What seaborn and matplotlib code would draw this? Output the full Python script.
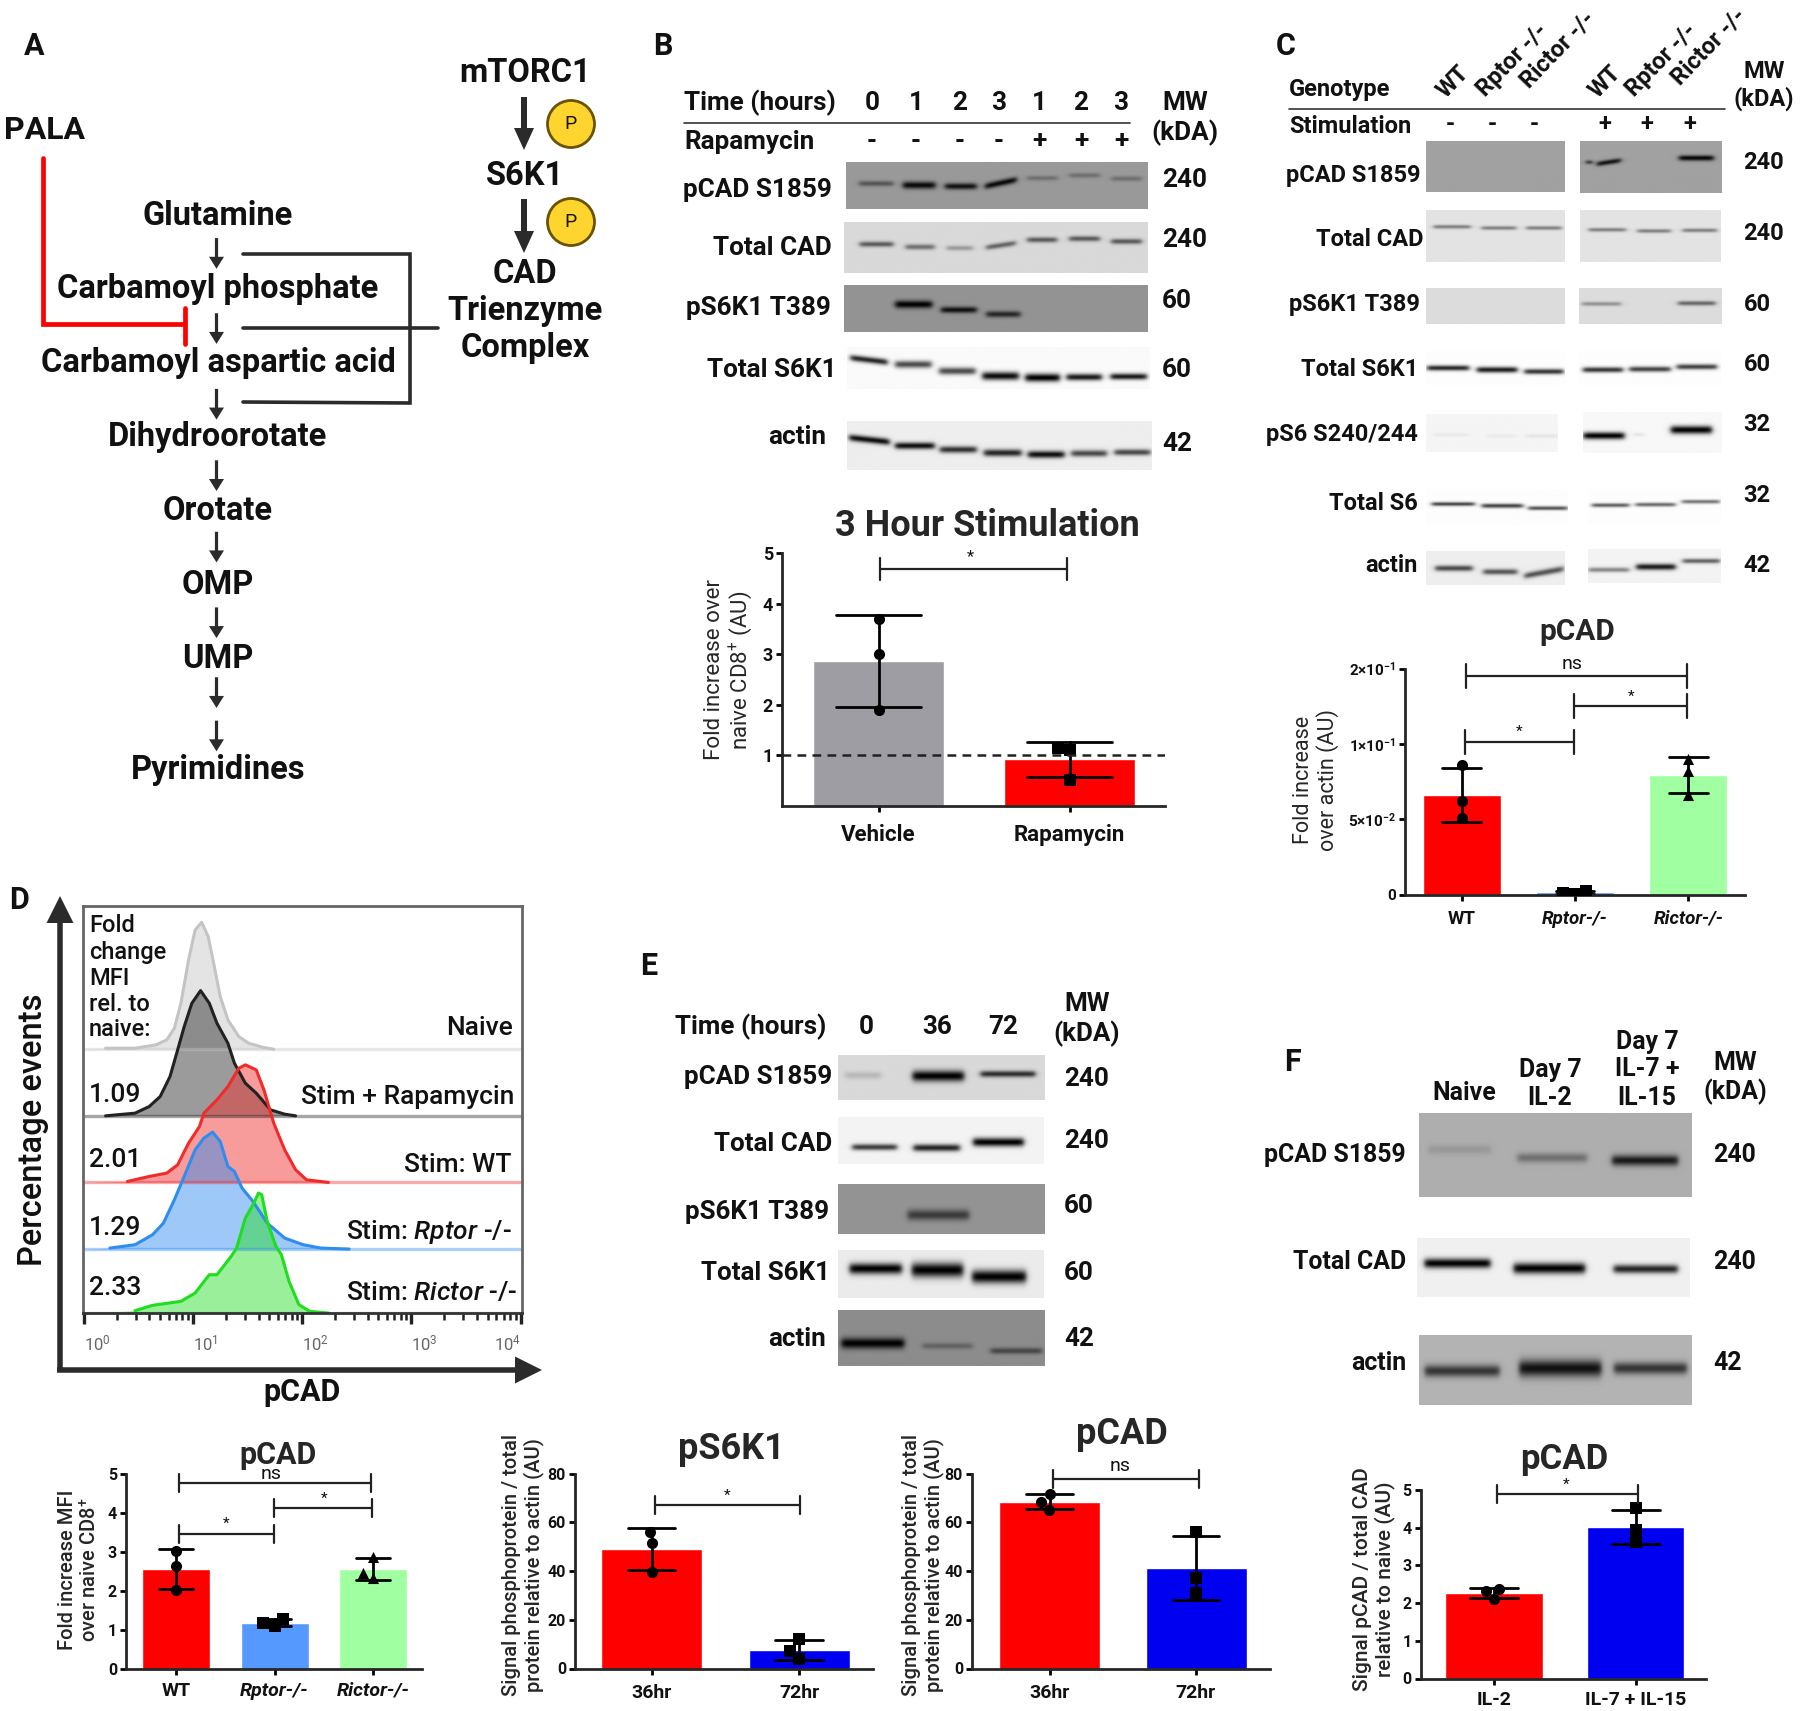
# -*- coding: utf-8 -*-
import numpy as np
import pandas as pd
import matplotlib
matplotlib.use("Agg")
import matplotlib.pyplot as plt
from matplotlib.patches import Ellipse
from matplotlib.transforms import ScaledTranslation
import seaborn as sns

# ---------- data ----------
# bar panels: the three replicates of every group, bars and whiskers are mean +- sd
b_groups = ["Vehicle", "Rapamycin"]
b_values = [[3.70, 3.00, 1.90], [1.15, 1.10, 0.52]]
c_groups = ["WT", "Rptor-/-", "Rictor-/-"]
c_values = [[0.086, 0.062, 0.051], [0.0022, 0.0006, 0.0012], [0.090, 0.082, 0.066]]
d_groups = ["WT", "Rptor-/-", "Rictor-/-"]
d_values = [[3.02, 2.65, 2.02], [1.29, 1.10, 1.17], [2.88, 2.47, 2.33]]
e1_groups = ["36hr", "72hr"]
e1_values = [[56, 51.5, 39.5], [12, 7, 4]]
e2_groups = ["36hr", "72hr"]
e2_values = [[71.5, 68.5, 65.2], [56, 37, 31]]
f_groups = ["IL-2", "IL-7 + IL-15"]
f_values = [[2.37, 2.33, 2.11], [4.52, 3.93, 3.63]]

# flow histograms: log10 fluorescence and events
naive_x = [0, .20, .47, .66, .76, .83, .89, .96, 1.02, 1.08, 1.14, 1.19, 1.25, 1.32, 1.42, 1.51, 1.65, 1.74, 4.02]
naive_y = [0, 3, 3, 13, 28, 63, 138, 268, 358, 381, 338, 258, 158, 88, 38, 18, 5, 0, 0]
rapa_x = [0, .20, .47, .60, .70, .79, .86, .92, .99, 1.07, 1.15, 1.22, 1.32, 1.38, 1.48, 1.58, 1.71, 1.84, 1.94, 4.02]
rapa_y = [0, 0, 8, 28, 58, 118, 198, 268, 338, 376, 338, 278, 218, 158, 98, 68, 18, 5, 0, 0]
wt_x = [0, .40, .60, .76, .86, .96, 1.06, 1.10, 1.22, 1.32, 1.42, 1.48, 1.58, 1.65, 1.74, 1.84, 1.94, 2.04, 2.24, 4.02]
wt_y = [0, 3, 18, 28, 53, 118, 168, 208, 248, 288, 343, 353, 338, 278, 178, 98, 38, 8, 0, 0]
rptor_x = [0, .24, .47, .63, .73, .83, .92, 1.02, 1.10, 1.18, 1.25, 1.32, 1.38, 1.45, 1.55, 1.68, 1.84, 2.01, 2.17, 2.43, 4.02]
rptor_y = [0, 3, 13, 43, 78, 148, 218, 298, 333, 351, 323, 248, 233, 183, 143, 78, 33, 13, 3, 0, 0]
rictor_x = [0, .47, .63, .89, 1.02, 1.15, 1.22, 1.35, 1.40, 1.48, 1.55, 1.60, 1.63, 1.68, 1.76, 1.81, 1.88, 1.97, 2.07, 2.24, 4.02]
rictor_y = [0, 7, 23, 35, 60, 115, 115, 170, 195, 285, 325, 360, 355, 275, 200, 175, 95, 25, 5, 0, 0]

# blot bands: x start, x end, y (or y start/end), darkness, thickness
b_blots = [
    (537, 1325, 296, 381, .60, [(570, 660, 335, .45, 2.2), (685, 770, 338, .95, 3), (795, 878, 340, .9, 2.6), (900, 982, (340, 328), .95, 2.6), (1010, 1090, 325, .28, 2), (1120, 1200, 320, .28, 2), (1230, 1310, 326, .28, 2)]),
    (532, 1325, 405, 497, .85, [(572, 660, 445, .6, 2.2), (692, 768, 450, .5, 2.2), (800, 868, 452, .3, 2), (903, 980, (451, 443), .55, 2.2), (1010, 1088, 437, .6, 2.2), (1120, 1200, 435, .6, 2.2), (1230, 1310, 440, .6, 2.2)]),
    (532, 1325, 520, 605, .58, [(665, 762, 555, 1, 3.2), (785, 878, 565, .9, 2.6), (903, 992, 573, .75, 2.6)]),
    (540, 1330, 635, 710, .98, [(548, 645, (654, 662), .85, 2.6), (665, 760, 666, .7, 3), (780, 875, 678, .7, 3), (893, 988, 687, .95, 3.4), (1005, 1095, 690, 1, 3.4), (1113, 1205, 689, .9, 2.8), (1228, 1323, 688, .9, 2.6)]),
    (540, 1335, 768, 857, .93, [(545, 650, (798, 806), .95, 2.8), (665, 768, 813, .95, 2.8), (782, 878, 820, .8, 2.8), (897, 995, 826, .85, 3), (1012, 1107, 829, .95, 3), (1125, 1218, 827, .7, 2.8), (1238, 1332, 825, .7, 2.6)]),
]
c_blots = [
    (520, 908, 238, 323, .63, []),
    (952, 1347, 240, 326, .63, [(968, 985, 275, .8, 1.6), (998, 1065, (278, 272), .9, 2), (1228, 1325, 268, .98, 2.2)]),
    (520, 908, 355, 442, .89, [(540, 645, 383, .45, 1.6), (675, 772, 385, .45, 1.6), (800, 900, 385, .45, 1.6)]),
    (952, 1345, 355, 442, .89, [(975, 1080, 388, .45, 1.6), (1112, 1205, 390, .45, 1.6), (1238, 1335, 389, .45, 1.6)]),
    (520, 908, 487, 546, .86, []),
    (948, 1347, 487, 546, .86, [(955, 1065, 513, .35, 1.6), (1225, 1330, 512, .55, 1.8)]),
    (520, 908, 590, 650, .99, [(522, 640, 620, .85, 2.2), (662, 775, 623, .9, 2.4), (795, 905, 626, .8, 2.2)]),
    (950, 1345, 590, 650, .99, [(960, 1072, 623, .8, 2.2), (1090, 1205, 622, .75, 2.2), (1222, 1335, 618, .75, 2.2)]),
    (520, 888, 698, 762, .96, [(540, 640, 733, .05, 1.6), (690, 770, 735, .05, 1.6), (800, 890, 735, .07, 1.6)]),
    (960, 1347, 695, 764, .97, [(960, 1075, 735, 1, 3), (1100, 1130, 733, .08, 1.6), (1205, 1320, 725, 1, 3.4)]),
    (520, 915, 825, 885, .99, [(535, 655, 850, .75, 1.6), (675, 790, 853, .75, 1.8), (805, 915, 857, .7, 1.6)]),
    (975, 1347, 825, 885, .99, [(985, 1090, 852, .65, 1.6), (1108, 1220, 851, .6, 1.6), (1238, 1345, 846, .55, 1.6)]),
    (520, 908, 928, 985, .93, [(545, 650, 957, .7, 2.4), (680, 775, 963, .65, 2.4), (795, 905, (970, 958), .65, 2.6)]),
    (975, 1347, 925, 982, .95, [(975, 1090, 960, .45, 2), (1110, 1220, 955, .9, 2.6), (1240, 1345, 945, .6, 2)]),
]
e_blots = [
    (596, 1218, 350, 483, .85, [(615, 725, 410, .15, 3), (820, 975, 412, 1, 4.5), (1025, 1190, 406, .8, 2.6)]),
    (598, 1218, 535, 675, .95, [(640, 775, 625, .75, 2.6), (825, 965, 627, .85, 3), (1005, 1158, 610, 1, 3.6)]),
    (596, 1218, 735, 885, .58, [(805, 990, 828, .6, 4.5)]),
    (598, 1218, 938, 1080, .92, [(632, 790, 993, 1, 4.5), (820, 975, 997, 1, 6), (1002, 1165, 1017, 1, 5.5)]),
    (596, 1218, 1117, 1285, .55, [(605, 795, 1217, 1, 4.5), (850, 1000, 1225, .3, 2.6), (1055, 1210, 1240, .5, 2.6)]),
]
f_blots = [
    (500, 1263, 280, 533, .68, [(525, 700, 390, .12, 4), (775, 970, 415, .35, 4), (1040, 1225, 423, .85, 4.5)]),
    (495, 1258, 660, 835, .94, [(515, 700, 735, 1, 4), (765, 965, 750, 1, 4.5), (1045, 1225, 752, .85, 3.6)]),
    (500, 1263, 950, 1160, .70, [(515, 725, 1058, .7, 5), (780, 1010, 1050, .9, 7), (1045, 1250, 1050, .7, 5)]),
]

# ---------- set up ----------
sns.set_style("ticks")

main_font = "Roboto"
plt.rcParams["font.family"] = [main_font, "DejaVu Sans"]
plt.rcParams["mathtext.fontset"] = "custom"
plt.rcParams["mathtext.rm"] = "Roboto"
plt.rcParams["mathtext.it"] = "Roboto:italic:medium"
plt.rcParams["mathtext.default"] = "regular"

fig = plt.figure(figsize=(18, 17.11), dpi=100, facecolor="white")
ov = fig.add_axes([0, 0, 1, 1], zorder=10)
ov.set_xlim(0, 1800)
ov.set_ylim(1711, 0)
ov.axis("off")
ov.patch.set_alpha(0)
ov.set_autoscale_on(False)


def txt(x, y, s, size=18, weight="bold", ha="center", **kw):
    ov.text(x, y + 2, s, fontsize=size, fontweight=weight, ha=ha, va="center", color="#111111", **kw)


def bracket(x0, x1, y, label="*", lx=None, ly=None, size=11, h=9):
    ov.plot([x0, x1], [y, y], color="#222222", lw=1.6)
    ov.plot([x0, x0], [y - h, y + h], color="#222222", lw=1.6)
    ov.plot([x1, x1], [y - h, y + h], color="#222222", lw=1.6)
    txt((x0 + x1) / 2 if lx is None else lx, y - 10 if ly is None else ly, label, size=size, weight="normal")


def blots(rows, ox, oy, xf, yf):
    for x0, x1, y0, y1, bg, bands in rows:
        bx0, bx1, by0, by1 = ox + x0 / xf, ox + x1 / xf, oy + y0 / yf, oy + y1 / yf
        xs = np.linspace(bx0, bx1, max(int(bx1 - bx0), 2))
        ys = np.linspace(by0, by1, max(int(by1 - by0), 2))
        grid = np.full((len(ys), len(xs)), float(bg))
        for ba, bb, by, dark, thick in bands:
            ya, yb = by if isinstance(by, tuple) else (by, by)
            a, b = ox + ba / xf, ox + bb / xf
            centre = oy + np.interp(xs, [a, b], [ya, yb]) / yf
            env = 0.5 * (np.tanh((xs - a) / 3) - np.tanh((xs - b) / 3))
            prof = np.exp(-((ys[:, None] - centre[None, :]) / (thick * 1.2)) ** 2)
            grid *= 1 - dark * prof * env[None, :]
        ov.imshow(grid, extent=(bx0, bx1, by1, by0), cmap="gray", vmin=0, vmax=1, aspect="auto", zorder=1)
    ov.set_xlim(0, 1800)
    ov.set_ylim(1711, 0)


def arrow(x, y0, y1, shaft=3.2, head=15, hlen=12):
    ov.arrow(x, y0, 0, y1 - y0, width=shaft, head_width=head, head_length=hlen,
             length_includes_head=True, color="#2b2b2b", lw=0)


def bars(box, centers, width, groups, values, colors, markers, ylim, yticks, ylabels, ylab, ylab_xy, title, title_xy,
         title_size, yscale=None, tick_size=11.5, lab_size=14, cap=.34, italic=False, xlab_pad=5, xlab_dx=None):
    left, right, top, bottom = box
    ax = fig.add_axes([left / 1800, 1 - bottom / 1711, (right - left) / 1800, (bottom - top) / 1711])
    df = pd.DataFrame({"group": np.repeat(groups, 3), "value": np.concatenate(values)})
    if yscale is not None:
        ax.set_yscale("function", functions=yscale)
    step = centers[1] - centers[0]
    xlim = ((left - centers[0]) / step, (right - centers[0]) / step)
    ax.set_ylim(*ylim)
    sns.barplot(data=df, x="group", y="value", order=groups, hue="group", hue_order=groups, palette=colors, legend=False,
                width=width / step, saturation=1, errorbar="sd", capsize=cap, err_kws={"color": "black", "linewidth": 2},
                ax=ax)
    for g, m in zip(groups, markers):
        sns.swarmplot(data=df[df["group"] == g], x="group", y="value", order=groups, color="black", marker=m, size=8, ax=ax)
    ax.set_xlim(*xlim)
    ax.set_ylim(*ylim)
    ax.set_yticks(yticks)
    ax.set_yticklabels(ylabels, fontsize=tick_size, fontweight="bold")
    ax.set_xticks(range(len(groups)))
    ax.set_xticklabels(groups, fontsize=lab_size, fontweight="bold")
    if italic:
        for t in ax.get_xticklabels()[1:]:
            t.set_style("italic")
    if xlab_dx is not None:
        for t, dx in zip(ax.get_xticklabels(), xlab_dx):
            t.set_transform(t.get_transform() + ScaledTranslation(dx / 100, 0, fig.dpi_scale_trans))
    ax.tick_params(axis="both", width=2, length=4, pad=2.5, color="black", labelcolor="#111111")
    ax.tick_params(axis="x", pad=xlab_pad)
    sns.despine(ax=ax)
    for s in ("left", "bottom"):
        ax.spines[s].set_linewidth(2)
    ax.patch.set_alpha(0)
    ax.set_xlabel("")
    ax.set_ylabel(ylab["text"], fontsize=ylab["size"], fontweight=ylab["weight"], va="center", ha="center", linespacing=1.15)
    ax.yaxis.set_label_coords((ylab_xy[0] - left) / (right - left), (bottom - ylab_xy[1]) / (bottom - top))
    ax.set_title(title, fontsize=title_size, fontweight="bold", va="center", ha="center", pad=0,
                 x=(title_xy[0] - left) / (right - left), y=(bottom - title_xy[1]) / (bottom - top))
    return ax


red, grey, lblue, green, blue = "#ff0000", "#9d9da3", "#5599ff", "#a0ffa0", "#0000f0"

# ---------- panel A ----------
txt(34, 44, "A", 22)
txt(45, 128, "PALA", 23)
pathway = ["Glutamine", "Carbamoyl phosphate", "Carbamoyl aspartic acid", "Dihydroorotate", "Orotate", "OMP", "UMP", "Pyrimidines"]
path_y = [214, 287, 361, 435, 509, 583, 657, 768]
for name, y in zip(pathway, path_y):
    txt(218, y, name, 23.5)
for a, b in [(450, 508), (592, 650), (735, 793), (870, 928), (1005, 1063), (1148, 1206), (1280, 1338), (1362, 1420)]:
    arrow(216.5, a / 1.89, b / 1.89)
ov.plot([243, 410, 410, 243], [254, 254, 403, 402], color="#2b2b2b", lw=2.6, solid_joinstyle="miter")
ov.plot([243, 438], [328, 328], color="#2b2b2b", lw=2.6)
ov.plot([43, 43, 185], [158, 324, 324], color="#ff0000", lw=3.4, solid_joinstyle="miter")
ov.plot([185, 185], [308, 344], color="#ff0000", lw=3.4)
txt(525, 71, "mTORC1", 23.5)
txt(525, 174, "S6K1", 23.5)
txt(525, 272, "CAD", 23.5)
txt(525, 309, "Trienzyme", 23.5)
txt(525, 346, "Complex", 23.5)
arrow(524, 97, 150, shaft=6, head=20, hlen=22)
arrow(524, 199, 253, shaft=6, head=20, hlen=22)
for y in [124, 222]:
    ov.add_patch(Ellipse((571, y), 47, 47, fc="#fdd52e", ec="#6b5200", lw=2))
    txt(571, y - 2, "P", 14, "normal")

# ---------- panel B ----------
blots(b_blots, 640, 0, 2.613, 1.823)
txt(663, 44, "B", 22)
txt(684, 101, "Time (hours)", 18.8, ha="left")
for x, s, sign in zip([872, 916, 960, 999, 1039, 1081, 1121], "0123123", "----+++"):
    txt(x, 101, s, 18.8)
    txt(x, 139, sign, 18.8)
ov.plot([684, 1130], [123, 123], color="#333333", lw=1.2)
txt(684, 140, "Rapamycin", 18.8, ha="left")
txt(1185, 101, "MW", 18.8)
txt(1185, 131, "(kDA)", 18.8)
for x, y, s in zip([1185, 1185, 1177, 1177, 1177], [178, 238, 299, 368, 442], ["240", "240", "60", "60", "42"]):
    txt(x, y, s, 18.8)
for x, y, s in zip([832, 832, 831, 837, 826], [188, 246, 306, 368, 435], ["pCAD S1859", "Total CAD", "pS6K1 T389", "Total S6K1", "actin"]):
    txt(x, y, s, 18.8, ha="right")

ax_b = bars((782, 1165, 553, 806), [878.5, 1069.5], 131, b_groups, b_values, [grey, red], ["o", "s"], (0, 5), [1, 2, 3, 4, 5],
            ["1", "2", "3", "4", "5"], {"text": "Fold increase over\nnaive CD8$^{+}$ (AU)", "size": 16, "weight": "normal"},
            (729, 670), "3 Hour Stimulation", (987, 526), 26, tick_size=13, lab_size=16, cap=.44, xlab_pad=9, xlab_dx=[-7, -2])
ax_b.axhline(1, color="#222222", lw=1.8, ls=(0, (3.5, 2.5)), zorder=5)
bracket(879.5, 1067, 569, "*", 970, 555, 12, h=11)

# ---------- panel C ----------
blots(c_blots, 1240, 0, 2.8, 1.685)
txt(1286, 44, "C", 22)
txt(1289, 87, "Genotype", 17, ha="left")
for x, y, s in zip([1453, 1512, 1558, 1605, 1661, 1709], [80, 58, 48, 80, 58, 45], ["WT", "Rptor -/-", "Rictor -/-", "WT", "Rptor -/-", "Rictor -/-"]):
    txt(x, y, s, 17, rotation=46, rotation_mode="anchor")
ov.plot([1289, 1725], [109, 109], color="#333333", lw=1.2)
txt(1289, 124, "Stimulation", 17, ha="left")
for x, s in zip([1450, 1492, 1534, 1605, 1647, 1690], "---+++"):
    txt(x, 122, s, 17)
txt(1764, 69, "MW", 17)
txt(1764, 97, "(kDA)", 17)
for x, y, s in zip([1764, 1764, 1757, 1757, 1757, 1757, 1757], [160, 231, 302, 362, 422, 493, 564], ["240", "240", "60", "60", "32", "32", "42"]):
    txt(x, y, s, 17)
for x, y, s in zip([1420, 1423, 1420, 1418, 1418, 1418, 1418], [173, 237, 302, 367, 432, 501, 564], ["pCAD S1859", "Total CAD", "pS6K1 T389", "Total S6K1", "pS6 S240/244", "Total S6", "actin"]):
    txt(x, y, s, 17, ha="right")

# ticks at 0, 5e-2, 1e-1, 2e-1 are evenly spaced on this axis
c_forward = lambda v: np.interp(v, [0, 0.05, 0.1, 0.2, 0.4], [0, 1, 2, 3, 4])
c_inverse = lambda v: np.interp(v, [0, 1, 2, 3, 4], [0, 0.05, 0.1, 0.2, 0.4])
ax_c = bars((1405, 1745, 668.5, 894.5), [1461.7, 1575, 1688], 78, c_groups, c_values, [red, lblue, green], ["o", "s", "^"], (0, 0.2),
            [0, 0.05, 0.1, 0.2], ["0", "5×10$^{-2}$", "1×10$^{-1}$", "2×10$^{-1}$"],
            {"text": "Fold increase\nover actin (AU)", "size": 15.5, "weight": "normal"}, (1316, 780), "pCAD", (1577, 632), 21.5,
            yscale=(c_forward, c_inverse), tick_size=11, lab_size=13.5, cap=.34, italic=True, xlab_pad=7)
bracket(1465.6, 1687.4, 676, "ns", 1572, 662, 14, h=12)
bracket(1574, 1687, 706, "*", 1631, 695, 11, h=12)
bracket(1464.5, 1574, 741.6, "*", 1519, 730, 11, h=12)

# ---------- panel D ----------
txt(19, 898, "D", 22)
ax_h = fig.add_axes([83 / 1800, 1 - 1313 / 1711, (522 - 83) / 1800, (1313 - 906) / 1711])
hist_series = [
    (naive_x, naive_y, 797, "#c4c4c4", 0.45),
    (rapa_x, rapa_y, 597, "#222222", 0.45),
    (wt_x, wt_y, 397, "#ef2b2b", 0.47),
    (rptor_x, rptor_y, 197, "#2f8cf0", 0.47),
    (rictor_x, rictor_y, 5, "#1fdd1f", 0.45),
]
for hx, hy, off, col, alpha in hist_series:
    fx = 10 ** np.array(hx)
    fy = np.array(hy) + off
    ax_h.fill_between(fx, off, fy, color=col, alpha=alpha, lw=0)
    ax_h.axhline(off, color=col, lw=2.4, alpha=0.4)
    sns.lineplot(x=fx[1:-1], y=fy[1:-1], color=col, lw=2.2, estimator=None, sort=False, ax=ax_h)
ax_h.set_xscale("log")
ax_h.set_xlim(10 ** -0.0066, 10 ** 4.013)
ax_h.set_ylim(5, 1227)
ax_h.set_yticks([])
ax_h.set_xticks([1, 10, 100, 1000, 10000])
ax_h.set_xticklabels(["10$^{0}$", "10$^{1}$", "10$^{2}$", "10$^{3}$", "10$^{4}$"], fontsize=12, color="#666666")
for t, h in zip(ax_h.get_xticklabels(), ["left", "left", "left", "left", "right"]):
    t.set_ha(h)
ax_h.tick_params(axis="x", which="major", direction="out", length=8, width=2.4, color="#222222", pad=7)
ax_h.tick_params(axis="x", which="minor", direction="out", length=5, width=1.8, color="#222222")
for s in ax_h.spines.values():
    s.set_color("#666666")
    s.set_linewidth(2)
ax_h.spines["bottom"].set_color("#333333")
for y, s in zip([923, 950, 976, 1002, 1028], ["Fold", "change", "MFI", "rel. to", "naive:"]):
    txt(89, y, s, 17, "medium", ha="left")
for y, s in zip([1093, 1158, 1226, 1286], ["1.09", "2.01", "1.29", "2.33"]):
    txt(89, y, s, 19, "medium", ha="left")
txt(513, 1026, "Naive", 19, "medium", ha="right")
txt(514, 1095, "Stim + Rapamycin", 19, "medium", ha="right")
txt(512, 1163, "Stim: WT", 19, "medium", ha="right")
txt(512, 1230, "Stim: $\\mathit{Rptor}$ -/-", 19, "medium", ha="right")
txt(517, 1291, "Stim: $\\mathit{Rictor}$ -/-", 19, "medium", ha="right")
txt(33, 1128, "Percentage events", 23.5, "medium", rotation=90)
txt(302, 1390, "pCAD", 22)
ov.arrow(60, 1370, 0, -474, width=5.5, head_width=27, head_length=27, length_includes_head=True, color="#2b2b2b", lw=0)
ov.arrow(57, 1370, 485, 0, width=5.5, head_width=27, head_length=27, length_includes_head=True, color="#2b2b2b", lw=0)

ax_d = bars((126, 422, 1474, 1669), [176, 274.6, 373], 68, d_groups, d_values, [red, lblue, green], ["o", "s", "^"], (0, 5),
            [0, 1, 2, 3, 4, 5], ["0", "1", "2", "3", "4", "5"],
            {"text": "Fold increase MFI\nover naive CD8$^{+}$", "size": 14.5, "weight": "medium"}, (79, 1570), "pCAD", (278, 1455), 22,
            italic=True, cap=.34, xlab_pad=5, xlab_dx=[3, 6, 9])
bracket(178.5, 370.5, 1483.3, "ns", 271, 1472, 14)
bracket(273.5, 371.5, 1508, "*", 324, 1497, 11)
bracket(178.5, 273.5, 1534, "*", 226, 1522, 11)

# ---------- panel E ----------
blots(e_blots, 640, 940, 3.015, 3.015)
txt(649, 964, "E", 22)
txt(675, 1025, "Time (hours)", 18.7, ha="left")
for x, s in zip([866, 937, 1003], ["0", "36", "72"]):
    txt(x, 1025, s, 18.7)
txt(1087, 1002, "MW", 18.7)
txt(1087, 1032, "(kDA)", 18.7)
for x, y, s in zip([1087, 1087, 1079, 1079, 1079], [1077, 1139, 1204, 1271, 1337], ["240", "240", "60", "60", "42"]):
    txt(x, y, s, 18.7)
for x, y, s in zip([832, 832, 829, 830, 826], [1075, 1142, 1210, 1271, 1337], ["pCAD S1859", "Total CAD", "pS6K1 T389", "Total S6K1", "actin"]):
    txt(x, y, s, 18.7, ha="right")

ylab_sig = {"text": "Signal phosphoprotein / total\nprotein relative to actin (AU)", "size": 14.5, "weight": "medium"}
ax_e1 = bars((575, 873, 1473.5, 1668.5), [651.5, 799], 101, e1_groups, e1_values, [red, blue], ["o", "s"], (0, 80), [0, 20, 40, 60, 80],
             ["0", "20", "40", "60", "80"], ylab_sig, (523, 1565), "pS6K1", (731, 1449), 26, cap=.32, xlab_pad=7)
bracket(654.5, 799.5, 1505, "*", 727, 1494, 11)
ax_e2 = bars((972, 1270, 1473.5, 1668.5), [1049.5, 1196], 101, e2_groups, e2_values, [red, blue], ["o", "s"], (0, 80), [0, 20, 40, 60, 80],
             ["0", "20", "40", "60", "80"], ylab_sig, (923, 1565), "pCAD", (1122, 1434), 26, cap=.32, xlab_pad=7)
bracket(1053, 1199, 1478.7, "ns", 1120, 1464, 14)

# ---------- panel F ----------
blots(f_blots, 1240, 1020, 2.8, 3.015)
txt(1292, 1060, "F", 22)
txt(1464, 1091, "Naive", 17.9)
txt(1550, 1068, "Day 7", 17.9)
txt(1550, 1096, "IL-2", 17.9)
txt(1647, 1040, "Day 7", 17.9)
txt(1647, 1067, "IL-7 +", 17.9)
txt(1647, 1096, "IL-15", 17.9)
txt(1735, 1061, "MW", 17.9)
txt(1735, 1090, "(kDA)", 17.9)
for x, y, s in zip([1735, 1735, 1728], [1153, 1260, 1361], ["240", "240", "42"]):
    txt(x, y, s, 17.9)
for y, s in zip([1153, 1260, 1361], ["pCAD S1859", "Total CAD", "actin"]):
    txt(1406, y, s, 17.9, ha="right")

ax_f = bars((1420.5, 1705.5, 1490, 1678.5), [1493.9, 1635.8], 97.3, f_groups, f_values, [red, blue], ["o", "s"], (0, 5), [0, 1, 2, 3, 4, 5],
            ["0", "1", "2", "3", "4", "5"], {"text": "Signal pCAD / total CAD\nrelative to naive (AU)", "size": 15, "weight": "medium"},
            (1374, 1579), "pCAD", (1564, 1459), 25, cap=.34, xlab_pad=5)
bracket(1497, 1637.6, 1493.7, "*", 1566, 1483, 11)

fig.savefig("out.png", dpi=100, facecolor="white")
